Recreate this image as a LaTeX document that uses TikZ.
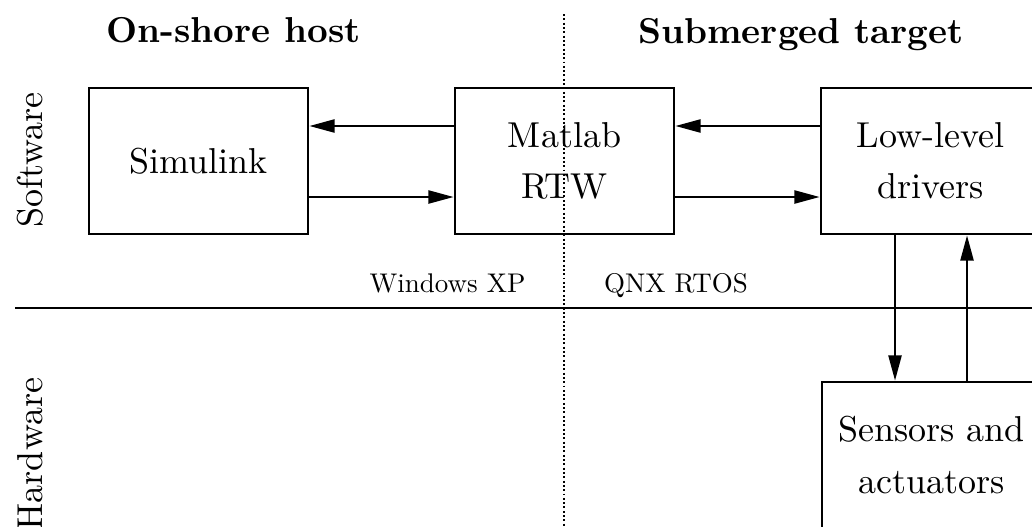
\documentclass[tikz,border=0pt]{standalone}
\usetikzlibrary{arrows.meta}
\begin{document}
\begin{tikzpicture}[x=0.27778pt, y=-0.27778pt,
  box/.style={draw, line width=0.75pt, minimum width=60.83pt, minimum height=40.56pt,
    inner sep=0pt, align=center, font=\fontsize{10}{14.2}\selectfont},
  arr/.style={line width=0.65pt, -{Triangle[length=7pt,width=3.6pt]}},
  title/.style={font=\bfseries, anchor=base, inner sep=0pt},
  os/.style={anchor=base, inner sep=0pt},
  side/.style={rotate=90, anchor=base, inner sep=0pt},
  sep/.style={line width=0.7pt},
  divide/.style={line width=0.65pt, dash pattern=on 0.55pt off 0.65pt}]
\path[use as bounding box] (0,0) rectangle (1032,526);
\clip (0,0) rectangle (1032,526);

% separators
\coordinate (vtop) at (564,14);
\coordinate (vbot) at (564,530);
\draw[divide] (vtop) -- (vbot);
\coordinate (hl) at (15,308);
\coordinate (hr) at (1040,308);
\draw[sep] (hl) -- (hr);

% boxes
\node[box] (sim) at (198.5,161) {Simulink};
\node[box] (mat) at (564.5,161) {Matlab\\RTW};
\node[box] (drv) at (930.5,161) {Low-level\\drivers};
\node[box] (sen) at (931.5,455) {Sensors and\\actuators};

% arrows
\coordinate (up) at (0,126);
\coordinate (lo) at (0,197);
\draw[arr] (mat.west |- up) -- (sim.east |- up);
\draw[arr] (sim.east |- lo) -- (mat.west |- lo);
\draw[arr] (drv.west |- up) -- (mat.east |- up);
\draw[arr] (mat.east |- lo) -- (drv.west |- lo);
\coordinate (dn) at (895,0);
\coordinate (upx) at (967,0);
\draw[arr] (drv.south -| dn) -- (sen.north -| dn);
\draw[arr] (sen.north -| upx) -- (drv.south -| upx);

% labels
\node[title] (t1) at (233.5,42) {On-shore host};
\node[title] (t2) at (801,43) {Submerged target};
\node[os] (xp) at (447.5,292) {\scalebox{0.75}{Windows XP}};
\node[os] (qnx) at (676,292) {\scalebox{0.75}{QNX RTOS}};
\node[side] (sw) at (42,160) {Software};
\node[side] (hw) at (42,454) {Hardware};
\end{tikzpicture}
\end{document}
